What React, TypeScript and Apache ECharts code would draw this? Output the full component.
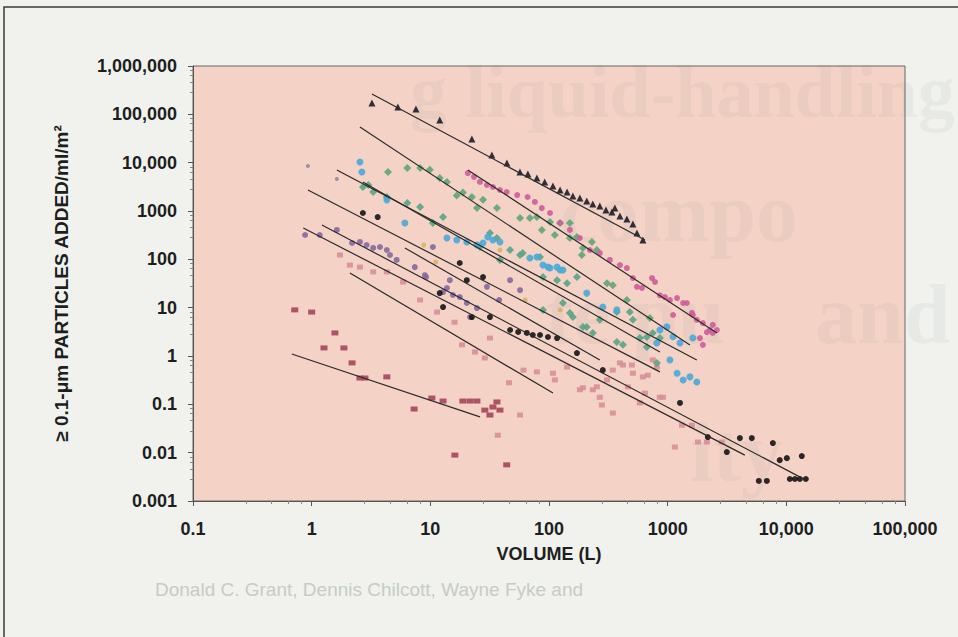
import React, { useEffect, useRef } from 'react';
import * as echarts from 'echarts';

// ---- tick labels ----
const xTickLabels = ['0.1', '1', '10', '100', '1000', '10,000', '100,000'];
const yTickLabels = ['0.001', '0.01', '0.1', '1', '10', '100', '1000', '10,000', '100,000', '1,000,000'];

// ---- scatter data [volume L, particles/ml/m2] ----
const triangles = [[3.22,171000],[5.33,142000],[7.56,129000],[12,76300],[22.4,30900],[33,14400],[44.2,9840],[56.9,6410],[66.4,5820],[79,4820],[92,3980],[108,3290],[124,2720],[142,2470],[159,2040],[182,1860],[208,1610],[234,1400],[268,1270],[302,1050],[339,953],[359,1150],[396,787],[453,682],[509,538],[551,351],[618,251]];
const greenUpper = [[4.4,6400],[6.4,7800],[8.2,7800],[9.9,7100],[12,4800],[13.8,4000],[16.7,2100],[18.8,2400],[22.4,1950],[27.8,1700],[24.7,1150],[36.4,1150],[57,720],[69,720],[79,750],[102,590],[124,565],[150,565],[87,405],[112,319],[150,276],[172,290],[193,172],[189,123],[230,229],[253,156],[308,32],[345,29],[453,14.4],[708,6.1]];
const magenta = [[20.7,6100],[23.3,5100],[26.2,4000],[30,3450],[33.7,3140],[38.6,2720],[44,2470],[54,2140],[66,1950],[76,1540],[87,1150],[102,910],[124,565],[150,405],[182,276],[221,156],[268,135],[326,97],[396,76],[453,66],[509,41],[551,27],[607,25.5],[738,41],[783,34],[859,18],[948,16.6],[1045,14.4],[1200,15.8],[1350,12.5],[1450,12.5],[1110,7.05],[1600,7.8],[1630,7.05],[1760,5.6],[1980,4.8],[2270,3.45],[2400,4.4],[2600,3.45],[2140,3.1],[2400,3.0],[1870,2.35],[1980,1.7]];
const cyan = [[2.55,10300],[2.65,6400],[4.3,1700],[6.1,565],[13.8,276],[16.7,251],[20.3,229],[24.7,198],[27.8,218],[30.5,290],[33.7,251],[38.6,229],[69,107],[79,112],[89,76],[102,66],[117,69],[124,60],[98,69],[131,60],[208,20],[284,10.3],[373,9.0],[810,1.86],[860,3.45],[985,4.0],[1110,2.5],[1270,1.86],[1630,2.35],[1045,0.83],[1200,0.44],[1350,0.32],[1540,0.37],[1760,0.29]];
const greenLower = [[2.7,3140],[3.0,3450],[3.3,2470],[4.3,1950],[6.4,1470],[8.2,1210],[10.5,565],[12.8,750],[26.2,180],[31.8,351],[36.4,276],[38.6,97],[47,156],[57,123],[60,135],[84,112],[89,43],[117,37],[142,32],[172,43],[131,12.5],[150,7.8],[159,6.4],[208,4.0],[234,3.0],[268,5.6],[373,8.1],[480,8.1],[509,5.6],[583,2.35],[668,2.47],[750,3.0],[860,2.35],[668,1.54],[811,0.72],[420,1.7],[373,1.95],[193,4.0],[89,9.0]];
const purple = [[0.88,319],[1.17,319],[1.63,405],[2.19,218],[2.55,229],[2.9,198],[3.3,172],[3.76,180],[4.3,156],[4.57,123],[5.2,97],[7.4,69],[9.0,47],[9.2,43],[10.5,180],[12.8,21],[13.8,25.5],[14.6,37],[15.5,18.3],[17.7,16.6],[20.3,12.5],[21.6,6.4],[24.7,9.8],[30,27],[47,37],[57,23],[38,14.4]];
const blackDots = [[2.7,910],[3.6,750],[12,20],[12.8,10.3],[17.7,84],[20.3,37],[22.4,6.4],[27.8,43],[31.8,6.4],[47,3.45],[55,3.14],[65,3.0],[73,2.72],[84,2.72],[98,2.47],[117,2.35],[172,1.15],[284,0.51],[1270,0.107],[2180,0.021],[3150,0.0103],[4060,0.02],[5120,0.02],[7700,0.0158],[8800,0.007],[10100,0.0077],[13500,0.0085],[5860,0.0026],[6850,0.0026],[10700,0.00285],[11800,0.00285],[13000,0.00285],[14600,0.00285]];
const salmon = [[1.73,123],[2.1,76],[2.55,69],[3.3,55],[4.3,55],[5.9,34],[8.2,14.4],[11.4,8.1],[16,5.0],[18.5,1.7],[23.8,1.21],[28.8,0.91],[31.8,2.35],[37,0.023],[57,0.06],[79,0.47],[108,0.44],[112,0.32],[142,0.59],[182,0.2],[193,0.22],[234,0.2],[253,0.23],[268,0.14],[279,0.097],[308,0.32],[345,0.51],[345,0.066],[396,0.72],[420,0.65],[462,0.23],[499,0.65],[509,0.44],[583,0.107],[618,0.37],[643,0.17],[681,0.4],[750,0.83],[811,0.59],[859,0.14],[912,0.14],[1150,0.0131],[1320,0.037],[1600,0.037],[1800,0.0166],[2140,0.0166],[2860,0.0166],[46,0.28],[61,0.51]];
const darkRed = [[0.72,9.0],[1.0,8.1],[1.57,3.0],[1.27,1.47],[1.87,1.47],[2.19,0.72],[2.55,0.35],[2.81,0.35],[4.3,0.37],[7.3,0.08],[10.3,0.135],[12.8,0.117],[16.1,0.0089],[18.8,0.117],[21.6,0.117],[24.7,0.117],[31.8,0.06],[33.7,0.088],[38.6,0.076],[36.4,0.112],[28.8,0.076],[44,0.0056]];
const tan = [[8.8,198],[11.1,88],[38.6,156],[63,14.4],[124,9.0]];
const gray = [[0.93,8500],[1.63,4600]];

// ---- fitted lines (start, end) ----
const fitTriangles = [[3.22,264000],[643,251]];
const fitGreenUpper = [[2.55,54700],[1540,1.69]];
const fitMagenta = [[20.7,7060],[2600,2.99]];
const fitCyan = [[1.63,7060],[1760,0.83]];
const fitGreenLower = [[2.7,3980],[860,1.21]];
const fitE = [[0.93,2720],[860,0.47]];
const fitBlack = [[1.22,514],[14600,0.0027]];
const fitPurple = [[0.85,445],[4470,0.0089]];
const fitSalmon = [[2.1,52],[108,0.171]];
const fitTan = [[6.1,172],[268,0.83]];
const fitDarkRed = [[0.68,1.1],[26.2,0.055]];

const FONT = "'Liberation Sans', Arial, sans-serif";

export default function App() {
  const ref = useRef<HTMLDivElement>(null);
  useEffect(() => {
    const chart = echarts.init(ref.current!, null, { renderer: 'svg' });
    const scatter = (name: string, data: number[][], color: string, symbol: string, size: any) => ({
      name, type: 'scatter', data, symbol, symbolSize: size, z: 3,
      itemStyle: { color, opacity: 0.9 },
    });
    const fit = (name: string, data: number[][]) => ({
      name, type: 'line', data, showSymbol: false, symbol: 'none', z: 4,
      lineStyle: { color: '#2b2b2b', width: 1.2 },
    });
    const fits = [fitTriangles, fitGreenUpper, fitMagenta, fitCyan, fitGreenLower, fitE, fitBlack, fitPurple, fitSalmon, fitTan, fitDarkRed];
    const ghostStyle = { fill: 'rgba(80,100,110,0.055)', fontFamily: "'Liberation Serif', 'DejaVu Serif', serif", fontWeight: 'bold' };
    chart.setOption({
      animation: false,
      backgroundColor: '#f1f2ed',
      grid: { left: 193, right: 53, top: 66, bottom: 136, show: true, backgroundColor: '#f4d3c6', borderColor: '#666', borderWidth: 1 },
      graphic: [
        { type: 'rect', z: -1, shape: { x: 4, y: 7, width: 980, height: 660 }, style: { fill: 'none', stroke: '#3a3a3a', lineWidth: 1.5 } },
        { type: 'text', z: 1, x: 410, y: 55, style: { text: 'g liquid-handling', fontSize: 74, ...ghostStyle } },
        { type: 'text', z: 1, x: 560, y: 170, style: { text: 'compo', fontSize: 84, ...ghostStyle } },
        { type: 'text', z: 1, x: 545, y: 272, style: { text: 'te pu', fontSize: 84, ...ghostStyle } },
        { type: 'text', z: 1, x: 815, y: 272, style: { text: 'and', fontSize: 84, ...ghostStyle } },
        { type: 'text', z: 1, x: 690, y: 410, style: { text: 'ity', fontSize: 84, ...ghostStyle } },
        { type: 'text', z: 1, x: 155, y: 580, style: { text: 'Donald C. Grant, Dennis Chilcott, Wayne Fyke and', fontSize: 19, fill: '#c6cbc7', fontFamily: "'Liberation Sans Narrow', 'Liberation Sans', sans-serif" } },
      ],
      xAxis: {
        type: 'log', logBase: 10, min: 0.1, max: 100000,
        axisLine: { show: true, lineStyle: { color: '#555' } },
        axisTick: { show: true, length: 5, lineStyle: { color: '#555' } },
        minorTick: { show: true, splitNumber: 5, length: 3, lineStyle: { color: '#888' } },
        splitLine: { show: false },
        axisLabel: {
          margin: 19, color: '#1e1e1e', fontSize: 18, fontWeight: 'bold', fontFamily: FONT,
          formatter: (v: number) => xTickLabels[Math.round(Math.log10(v)) + 1] ?? '',
        },
        name: 'VOLUME (L)', nameLocation: 'middle', nameGap: 44,
        nameTextStyle: { color: '#1e1e1e', fontSize: 18, fontWeight: 'bold', fontFamily: FONT },
      },
      yAxis: {
        type: 'log', logBase: 10, min: 0.001, max: 1000000,
        axisLine: { show: true, lineStyle: { color: '#555' } },
        axisTick: { show: true, length: 5, lineStyle: { color: '#555' } },
        minorTick: { show: true, splitNumber: 5, length: 3, lineStyle: { color: '#888' } },
        splitLine: { show: false },
        axisLabel: {
          margin: 16, color: '#1e1e1e', fontSize: 18, fontWeight: 'bold', fontFamily: FONT,
          formatter: (v: number) => yTickLabels[Math.round(Math.log10(v)) + 3] ?? '',
        },
        name: '≥ 0.1-μm PARTICLES ADDED/ml/m²', nameLocation: 'middle', nameGap: 122, nameRotate: 90,
        nameTextStyle: { color: '#1e1e1e', fontSize: 19, fontWeight: 'bold', fontFamily: FONT },
      },
      series: [
        scatter('salmon', salmon, '#d78f97', 'rect', [6, 5]),
        scatter('darkRed', darkRed, '#a5455a', 'rect', [7, 5]),
        scatter('tan', tan, '#d6b564', 'circle', 5),
        scatter('gray', gray, '#8f8a9a', 'circle', 4),
        scatter('purple', purple, '#87679f', 'circle', 6),
        scatter('greenLower', greenLower, '#58a484', 'diamond', 8),
        scatter('cyan', cyan, '#4aa9d8', 'circle', 7),
        scatter('greenUpper', greenUpper, '#5ea677', 'diamond', 8),
        scatter('magenta', magenta, '#cf5c9b', 'circle', 6),
        scatter('blackDots', blackDots, '#141414', 'circle', 6),
        scatter('triangles', triangles, '#1c1c2a', 'triangle', 7),
        ...fits.map((d, i) => fit('fit' + i, d)),
      ],
    });
    return () => chart.dispose();
  }, []);
  return <div ref={ref} style={{ position: 'absolute', left: 0, top: 0, width: 958, height: 637 }} />;
}
